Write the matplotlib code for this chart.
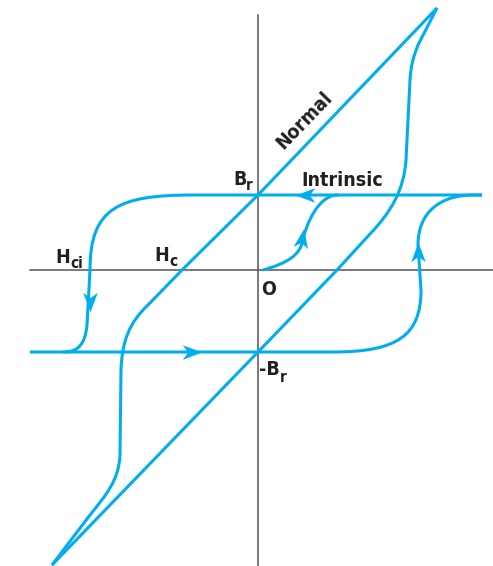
import numpy as np
import matplotlib
matplotlib.use("Agg")
import matplotlib.pyplot as plt
from matplotlib.path import Path
from matplotlib.patches import PathPatch
from matplotlib.markers import MarkerStyle
from matplotlib import font_manager

# H (x) and B (y), origin at O
M, L, C = Path.MOVETO, Path.LINETO, Path.CURVE4

normal_down = [(179, 262), (0, 75), (-76, 0), (-110, -35),
               (-128, -52), (-136, -70), (-137, -100),
               (-138, -185),
               (-139, -210), (-152, -225), (-168, -245),
               (-206, -295)]
normal_down_codes = [M, L, L, L, C, C, C, L, C, C, C, L]

normal_up = [(-206, -295), (0, -82), (79, 0), (112, 36),
             (133, 58), (146, 80), (148, 110),
             (152, 190),
             (153, 205), (155, 212), (160, 225),
             (179, 262)]
normal_up_codes = [M, L, L, L, C, C, C, L, C, C, C, L]

intr_down = [(224, 75), (-65, 75),
             (-140, 75), (-168, 62), (-168, 0),
             (-171, -55),
             (-173, -75), (-180, -82), (-195, -82),
             (-228, -82)]
intr_down_codes = [M, L, C, C, C, L, C, C, C, L]

intr_up = [(-195, -82), (75, -82),
           (140, -82), (163, -65), (163, -20),
           (160, 25),
           (160, 60), (185, 75), (215, 75),
           (224, 75)]
intr_up_codes = [M, L, C, C, C, L, C, C, C, L]

initial = [(5, 0), (30, 7), (42, 15), (45, 30),
           (48, 45), (60, 75), (80, 75)]
initial_codes = [M, C, C, C, C, C, C]

# arrow positions and directions (degrees)
arrow_pos = [(47, 75), (-66, -82), (-168, -32), (160, 18), (44, 32)]
arrow_dir = [180, 0, -90, 90, 80]

labels = [("Normal", 46, 150, 46),
          ("Intrinsic", 84, 90, 0),
          ("H", -195, 13, 0), ("H", -96, 15, 0),
          ("B", -18, 91, 0), ("O", 11, -19, 0),
          ("-B", 11, -99, 0)]
subs = [("ci", -181, 7), ("c", -85, 9), ("r", -9, 85), ("r", 25, -107)]

blue = "#00aeef"
names = {f.name for f in font_manager.fontManager.ttflist}
font = [n for n in ["Liberation Sans Narrow", "DejaVu Sans"] if n in names]

fig = plt.figure(figsize=(4.93, 5.66), dpi=100)
ax = fig.add_axes([0, 0, 1, 1])
ax.set_xlim(-258, 235)
ax.set_ylim(-296, 270)
ax.axis("off")

# axes
ax.plot([-228, 235], [0, 0], color="#555555", lw=1.1, zorder=1)
ax.plot([0, 0], [-296, 255], color="#555555", lw=1.1, zorder=1)

for verts, codes in [(normal_down, normal_down_codes), (normal_up, normal_up_codes),
                     (intr_down, intr_down_codes), (intr_up, intr_up_codes),
                     (initial, initial_codes)]:
    p = PathPatch(Path(verts, codes), facecolor="none", edgecolor=blue,
                  lw=2.2, capstyle="butt", joinstyle="round", zorder=2)
    ax.add_patch(p)

head = Path([(1, 0), (-1, 0.75), (-0.45, 0), (-1, -0.75), (1, 0)],
            [M, L, L, L, Path.CLOSEPOLY])
for (x, y), d in zip(arrow_pos, arrow_dir):
    ax.plot(x, y, marker=MarkerStyle(head).rotated(deg=d), markersize=14,
            color=blue, markeredgewidth=0, zorder=3)

for t, x, y, r in labels:
    ax.text(x, y, t, family=font, fontweight="bold", fontsize=14,
            fontstretch="condensed", ha="center", va="center",
            rotation=r, color="#231f20")
for t, x, y in subs:
    ax.text(x, y, t, family=font, fontweight="bold", fontsize=11,
            fontstretch="condensed", ha="center", va="center", color="#231f20")

fig.savefig("out.png", dpi=100)
